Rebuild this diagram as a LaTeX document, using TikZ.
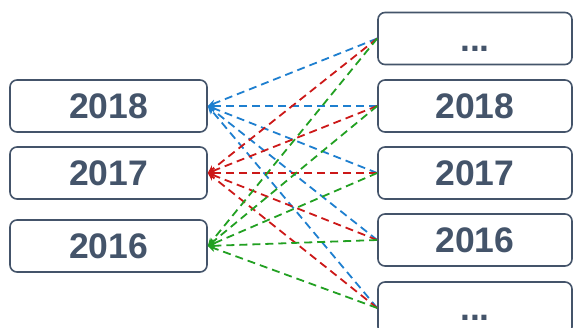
\documentclass[tikz,border=0pt]{standalone}
\usepackage{fontspec}
\setmainfont{Liberation Sans}
\usetikzlibrary{arrows.meta}
\definecolor{slate}{HTML}{44546A}
\definecolor{lnblue}{HTML}{1E7FCF}
\definecolor{lnred}{HTML}{CC1818}
\definecolor{lngreen}{HTML}{22A022}
\begin{document}
\begin{tikzpicture}[x=1pt,y=-1pt,
  yearbox/.style={draw=slate, line width=1.6pt, rounded corners=7pt,
    minimum width=197pt, minimum height=52pt, inner sep=0pt,
    text=slate, font=\fontsize{35.5}{36}\selectfont\bfseries,
    text height=25.4pt, text depth=0pt},
  rightbox/.style={yearbox, minimum width=194pt},
  link/.style={dashed, dash pattern=on 8pt off 5pt, line width=1.8pt,
    -{Stealth[length=8pt,width=7pt]}}]
\clip (0,0) rectangle (573,328);
% left column
\node[yearbox] (L18) at (108.5,106) {2018};
\node[yearbox] (L17) at (108.5,173) {2017};
\node[yearbox] (L16) at (108.5,246) {2016};
% right column
\node[rightbox] (Rtop) at (475,38.5) {...};
\node[rightbox] (R18) at (475,106) {2018};
\node[rightbox] (R17) at (475,173) {2017};
\node[rightbox] (R16) at (475,240) {2016};
\node[rightbox] (Rbot) at (475,308) {...};
% blue links into 2018
\foreach \r in {Rtop,R18,R17,R16,Rbot}
  \draw[link, lnblue] (\r.west) -- (L18.east);
% red links into 2017
\foreach \r in {Rtop,R18,R17,R16,Rbot}
  \draw[link, lnred] (\r.west) -- (L17.east);
% green links into 2016
\foreach \r in {Rtop,R18,R17,R16,Rbot}
  \draw[link, lngreen] (\r.west) -- (L16.east);
\end{tikzpicture}
\end{document}
